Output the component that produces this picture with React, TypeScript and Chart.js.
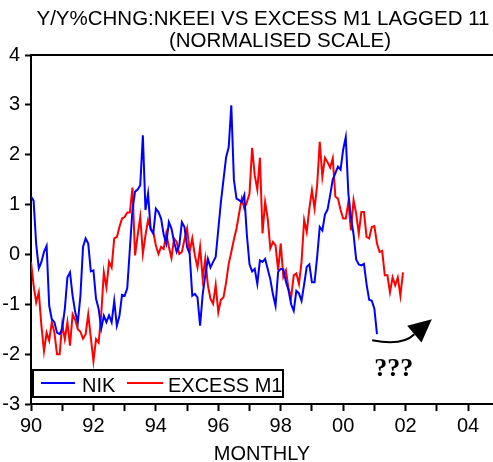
import React, { useEffect, useRef } from 'react';
import { Chart, registerables } from 'chart.js';

Chart.register(...registerables);

const START_YEAR = 1990;
const MONTHS_PER_YEAR = 12;

const titleLines = ['Y/Y%CHNG:NKEEI VS EXCESS M1 LAGGED 11', '(NORMALISED SCALE)'];
const xAxisTitle = 'MONTHLY';
const seriesNames = ['NIK', 'EXCESS M1'];
const seriesColors = ['#0000ff', '#ff0000'];

const xTickYears = [1990, 1992, 1994, 1996, 1998, 2000, 2002, 2004];
const xTickLabels = ['90', '92', '94', '96', '98', '00', '02', '04'];
const yTickValues = [-3, -2, -1, 0, 1, 2, 3, 4];

// Monthly, starting Jan 1990
const nikValues = [
  1.16, 1.08, 0.2, -0.28, -0.15, 0.05, 0.17, -1.03, -1.3, -1.36,
  -1.57, -1.6, -1.49, -1.09, -0.46, -0.36, -0.83, -1.16, -1.36, -0.83,
  0.15, 0.32, 0.22, -0.34, -0.32, -0.89, -1.09, -1.49, -1.23, -1.36,
  -1.22, -1.36, -0.93, -1.43, -1.23, -0.81, -0.83, -0.68, 0.11, 0.89,
  1.26, 1.3, 1.39, 2.39, 0.89, 1.22, 0.5, 0.42, 0.92, 0.85,
  0.72, 0.4, 0.22, 0.65, 0.52, 0.25, 0.05, 0.18, 0.65, 0.55,
  0.15, 0.01, -0.83, -0.79, -0.86, -1.43, -0.8, -0.42, -0.09, -0.26,
  -0.15, -0.05, 0.5, 1.05, 1.5, 1.95, 2.15, 2.99, 1.5, 1.12,
  1.09, 1.05, 1.19, 0.38, -0.2, -0.34, -0.29, -0.59, -0.12, -0.15,
  -0.09, -0.29, -0.5, -0.8, -1.03, -0.35, -0.29, -0.3, -0.55, -0.72,
  -1.0, -1.13, -0.73, -0.78, -0.93, -0.6, -0.25, -0.2, -0.56, -0.56,
  -0.05, 0.55, 0.48, 0.8, 0.9, 1.19, 1.5, 1.63, 1.76, 1.7,
  2.1, 2.35, 1.22, 0.75, 0.4, -0.1, -0.2, -0.22, -0.19, -0.6,
  -0.91, -0.93, -1.09, -1.6,
];

const excessM1Values = [
  -0.15, -0.62, -0.96, -0.76, -1.43, -1.94, -1.57, -1.73, -1.36, -1.57,
  -2.0, -2.0, -1.4, -1.7, -1.36, -1.83, -1.2, -1.31, -1.5, -1.55,
  -1.69, -1.6, -1.2, -1.67, -2.14, -1.7, -1.77, -1.2, -0.36, -0.66,
  -0.15, -0.26, 0.32, 0.35, 0.55, 0.72, 0.75, 0.84, 0.84, 1.34,
  -0.02, 0.38, 0.75, 0.01, 0.38, 0.69, 0.52, 0.45, 0.18, 0.01,
  0.15, 0.11, 0.42, 0.15, -0.07, 0.32, 0.25, 0.01, 0.05, 0.3,
  0.52, 0.05, 0.32, -0.02, -0.26, 0.15, -0.49, -0.09, -0.62, -0.89,
  -0.99, -0.61, -1.16, -0.91, -0.86, -0.56, -0.19, 0.05, 0.3, 0.52,
  0.82, 1.12, 0.92, 1.05, 1.22, 2.14, 1.59, 1.3, 1.94, 0.42,
  1.05, 0.72, 0.12, 0.25, 0.18, -0.32, 0.22, -0.45, -0.32, -0.69,
  -0.86, -0.42, -0.38, -0.59, -0.15, 0.69, 0.45, 0.92, 1.29, 0.92,
  1.39, 2.26, 1.56, 1.94, 1.85, 1.74, 1.93, 1.16, 1.12, 0.89,
  0.72, 0.72, 1.05, 0.48, 1.09, 0.82, 0.42, 0.85, 0.85, 0.35,
  0.32, 0.55, 0.57, 0.22, 0.05, 0.07, -0.42, -0.42, -0.76, -0.46,
  -0.62, -0.46, -0.83, -0.36,
];

// annotation arrow anchored in data coordinates: [year, value]
const arrowPath = [
  [2000.93, -1.72],
  [2001.9, -1.84],
  [2002.28, -1.6],
];
const arrowTip = [2002.84, -1.3];
const annotationText = '???';
const annotationTextAnchor = [2001.62, -2.44];

const toPoints = (vals: number[]) =>
  vals.map((v, i) => ({ x: START_YEAR + i / MONTHS_PER_YEAR, y: v }));

const FONT = '"Liberation Sans", Arial, sans-serif';

const decorPlugin = {
  id: 'decor',
  afterDraw(chart: any) {
    const ctx = chart.ctx;
    const { left, top } = chart.chartArea;
    const xs = chart.scales.x;
    const ys = chart.scales.y;
    ctx.save();
    // top frame line
    ctx.strokeStyle = '#000';
    ctx.lineWidth = 2;
    ctx.beginPath();
    ctx.moveTo(left - 1, top);
    ctx.lineTo(chart.width, top);
    ctx.stroke();

    // title
    ctx.fillStyle = '#000';
    ctx.font = `20.5px ${FONT}`;
    ctx.textAlign = 'center';
    ctx.textBaseline = 'alphabetic';
    ctx.fillText(titleLines[0], 263, 25);
    ctx.fillText(titleLines[1], 280, 47);

    // x axis title
    ctx.font = `20px ${FONT}`;
    ctx.fillText(xAxisTitle, 262, 460);

    // legend
    const lx = 33, ly = 370, lw = 250, lh = 27;
    ctx.fillStyle = '#fff';
    ctx.fillRect(lx, ly, lw, lh);
    ctx.save();
    ctx.beginPath();
    ctx.rect(lx, ly, lw, lh);
    ctx.clip();
    const items = [
      { x0: 41, x1: 75, tx: 82 },
      { x0: 127, x1: 163, tx: 168 },
    ];
    items.forEach((it, i) => {
      ctx.strokeStyle = seriesColors[i];
      ctx.lineWidth = 2;
      ctx.beginPath();
      ctx.moveTo(it.x0, 383);
      ctx.lineTo(it.x1, 383);
      ctx.stroke();
      ctx.fillStyle = '#000';
      ctx.textAlign = 'left';
      ctx.font = `20px ${FONT}`;
      ctx.fillText(seriesNames[i], it.tx, 392);
    });
    ctx.restore();
    ctx.strokeStyle = '#000';
    ctx.lineWidth = 2;
    ctx.strokeRect(lx, ly, lw, lh);

    // arrow annotation
    const p = arrowPath.map(([a, b]) => [xs.getPixelForValue(a), ys.getPixelForValue(b)]);
    const tip = [xs.getPixelForValue(arrowTip[0]), ys.getPixelForValue(arrowTip[1])];
    ctx.strokeStyle = '#000';
    ctx.lineWidth = 2;
    ctx.beginPath();
    ctx.moveTo(p[0][0], p[0][1]);
    ctx.quadraticCurveTo(p[1][0], p[1][1], p[2][0], p[2][1]);
    ctx.stroke();
    const dx = tip[0] - p[2][0];
    const dy = tip[1] - p[2][1];
    const len = Math.hypot(dx, dy) || 1;
    const ux = dx / len, uy = dy / len;
    const L = 23, W = 11;
    const bx = tip[0] - ux * L, by = tip[1] - uy * L;
    ctx.fillStyle = '#000';
    ctx.beginPath();
    ctx.moveTo(tip[0], tip[1]);
    ctx.lineTo(bx - uy * W, by + ux * W);
    ctx.lineTo(bx + uy * W, by - ux * W);
    ctx.closePath();
    ctx.fill();

    ctx.font = `bold 26px "Liberation Serif", "Times New Roman", serif`;
    ctx.textAlign = 'center';
    ctx.fillText(
      annotationText,
      xs.getPixelForValue(annotationTextAnchor[0]),
      ys.getPixelForValue(annotationTextAnchor[1])
    );
    ctx.restore();
  },
};

export default function App() {
  const ref = useRef<HTMLCanvasElement | null>(null);
  useEffect(() => {
    if (!ref.current) return;
    const chart = new Chart(ref.current, {
      type: 'line',
      data: {
        datasets: [
          {
            label: seriesNames[0],
            data: toPoints(nikValues),
            borderColor: seriesColors[0],
            borderWidth: 2,
            pointRadius: 0,
            tension: 0,
            fill: false,
          },
          {
            label: seriesNames[1],
            data: toPoints(excessM1Values),
            borderColor: seriesColors[1],
            borderWidth: 2,
            pointRadius: 0,
            tension: 0,
            fill: false,
          },
        ],
      },
      options: {
        animation: false,
        responsive: false,
        maintainAspectRatio: false,
        devicePixelRatio: 1,
        layout: { padding: { top: 55, left: 0, right: 0, bottom: 0 } },
        plugins: {
          legend: { display: false },
          title: { display: false },
          tooltip: { enabled: false },
        },
        scales: {
          x: {
            type: 'linear',
            min: 1990,
            max: 2004.8,
            afterFit: (s: any) => { s.height = 58; },
            border: { display: true, color: '#000', width: 2 },
            grid: {
              drawOnChartArea: false,
              drawTicks: true,
              tickLength: 7,
              tickColor: '#000',
              tickWidth: 2,
            },
            ticks: {
              stepSize: 1,
              autoSkip: false,
              includeBounds: false,
              maxRotation: 0,
              padding: 3,
              color: '#000',
              font: { family: FONT, size: 20 },
              callback: (v: any) => {
                const i = xTickYears.indexOf(Number(v));
                return i >= 0 ? xTickLabels[i] : '';
              },
            },
          },
          y: {
            type: 'linear',
            min: yTickValues[0],
            max: yTickValues[yTickValues.length - 1],
            afterFit: (s: any) => { s.width = 31; },
            border: { display: true, color: '#000', width: 2 },
            grid: {
              drawOnChartArea: false,
              drawTicks: true,
              tickLength: 6,
              tickColor: '#000',
              tickWidth: 2,
            },
            ticks: {
              stepSize: 1,
              padding: 5,
              color: '#000',
              font: { family: FONT, size: 20 },
              callback: (v: any) => String(v),
            },
          },
        },
      },
      plugins: [decorPlugin],
    });
    return () => chart.destroy();
  }, []);
  return (
    <div style={{ position: 'fixed', left: 0, top: 0, width: 493, height: 462, background: '#fff' }}>
      <canvas ref={ref} width={493} height={462} style={{ width: 493, height: 462 }} />
    </div>
  );
}
